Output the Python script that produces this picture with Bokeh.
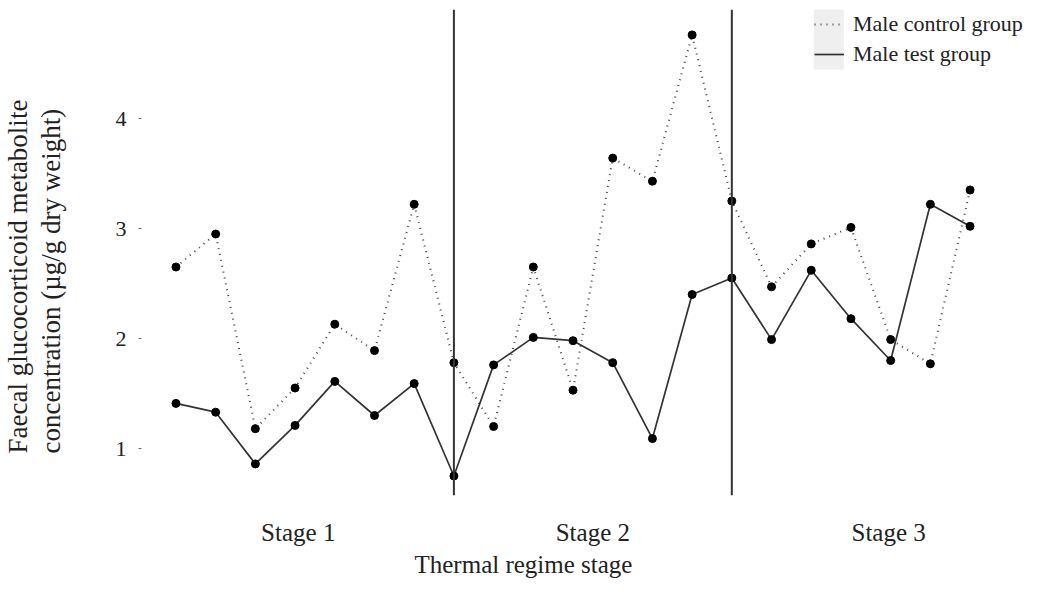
from bokeh.plotting import figure
from bokeh.models import Range1d, Span, Legend, LegendItem, BoxAnnotation, FixedTicker, Title
from bokeh.embed import file_html
from bokeh.resources import INLINE

# ---- data ----
sample_index = list(range(1, 22))
control_group = [2.65, 2.95, 1.18, 1.55, 2.13, 1.89, 3.22, 1.78, 1.20, 2.65, 1.53,
                 3.64, 3.43, 4.76, 3.25, 2.47, 2.86, 3.01, 1.99, 1.77, 3.35]
test_group = [1.41, 1.33, 0.86, 1.21, 1.61, 1.30, 1.59, 0.75, 1.76, 2.01, 1.98,
              1.78, 1.09, 2.40, 2.55, 1.99, 2.62, 2.18, 1.80, 3.22, 3.02]
stage_boundaries = [8, 15]
stage_tick_pos = [4.08, 11.5, 18.95]
stage_labels = ["Stage 1", "Stage 2", "Stage 3"]
y_ticks = [1, 2, 3, 4]

FONT = "Liberation Serif"
INK = "#222222"

# pixel helpers (picture pixels -> data), for range limits and decoration only
def X(px):
    return 1 + (px - 174.5) / 39.75

def Y(py):
    return 4 - (py - 118) / 110.0

W, H = 1029, 578
p = figure(width=W, height=H, output_backend="svg", toolbar_location=None,
           x_range=Range1d(X(140), X(1029)), y_range=Range1d(Y(495), Y(9)),
           min_border_left=140, min_border_right=0, min_border_top=9, min_border_bottom=83)
p.outline_line_color = None
p.grid.visible = False
p.background_fill_color = "white"
p.border_fill_color = "white"

# axes
p.yaxis.ticker = FixedTicker(ticks=y_ticks)
p.yaxis.axis_line_color = None
p.yaxis.major_tick_in = 0
p.yaxis.major_tick_out = 3
p.yaxis.major_tick_line_color = "#666666"
p.yaxis.minor_tick_line_color = None
p.yaxis.major_label_standoff = 12
p.yaxis.major_label_text_font = FONT
p.yaxis.major_label_text_font_size = "22px"
p.yaxis.major_label_text_color = INK

p.xaxis.ticker = FixedTicker(ticks=stage_tick_pos)
p.xaxis.major_label_overrides = {t: s for t, s in zip(stage_tick_pos, stage_labels)}
p.xaxis.axis_line_color = None
p.xaxis.major_tick_line_color = None
p.xaxis.minor_tick_line_color = None
p.xaxis.major_tick_in = 0
p.xaxis.major_tick_out = 0
p.xaxis.major_label_standoff = 23
p.xaxis.major_label_text_font = FONT
p.xaxis.major_label_text_font_size = "25px"
p.xaxis.major_label_text_color = INK

# stage boundaries
for b in stage_boundaries:
    p.add_layout(Span(location=b, dimension="height", line_color="#333333", line_width=2))

# legend key background
p.add_layout(BoxAnnotation(left=X(813), right=X(843), top=Y(5), bottom=Y(69),
                           fill_color="#efefef", fill_alpha=1, line_alpha=0, level="underlay"))

l_ctrl = p.line(sample_index, control_group, line_color="#444444", line_width=2,
                line_dash="1 5")
p.scatter(sample_index, control_group, size=8, color="black")
l_test = p.line(sample_index, test_group, line_color="#333333", line_width=1.7)
p.scatter(sample_index, test_group, size=8, color="black")

legend = Legend(items=[LegendItem(label="Male control group", renderers=[l_ctrl]),
                       LegendItem(label="Male test group", renderers=[l_test])],
                location=(673, 428), orientation="vertical",
                glyph_width=30, glyph_height=24, label_height=24, spacing=4,
                label_standoff=9, padding=0, margin=0,
                background_fill_alpha=0, border_line_color=None,
                label_text_font=FONT, label_text_font_size="22px", label_text_color=INK)
p.add_layout(legend)

# axis titles
spacer = Title(text=" ", text_font_size="1px", standoff=44)
p.add_layout(spacer, "left")
ytitle = Title(text="Faecal glucocorticoid metabolite\nconcentration (µg/g dry weight)",
               align="left", offset=42, standoff=0, text_line_height=1.1,
               text_font=FONT, text_font_size="27px", text_font_style="normal",
               text_color=INK)
p.add_layout(ytitle, "left")

xtitle = Title(text="Thermal regime stage", align="left", offset=273, standoff=0,
               text_font=FONT, text_font_size="25px", text_font_style="normal",
               text_color=INK)
p.add_layout(xtitle, "below")

open("out.html", "w").write(file_html(p, INLINE))
